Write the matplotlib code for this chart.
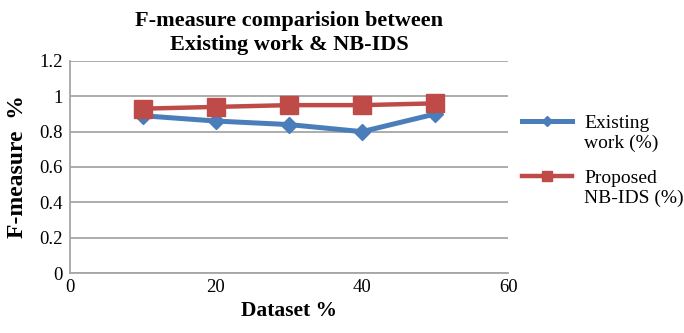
import matplotlib
matplotlib.use("Agg")
import matplotlib.pyplot as plt
from matplotlib.lines import Line2D

dataset = [10, 20, 30, 40, 50]
existing = [0.89, 0.86, 0.84, 0.80, 0.90]
proposed = [0.93, 0.94, 0.95, 0.95, 0.96]

blue = '#4a7ebb'
red = '#be4b48'

plt.rcParams['font.family'] = ['Liberation Serif', 'DejaVu Serif']

fig = plt.figure(figsize=(6.84, 3.33), dpi=100)
ax = fig.add_axes([0.102, 0.18, 0.641, 0.637])

l1, = ax.plot(dataset, existing, color=blue, lw=3.6, marker='D', ms=8.5,
              mec=blue, zorder=3)
l2, = ax.plot(dataset, proposed, color=red, lw=3.2, marker='s', ms=13,
              mec=red, zorder=4)

ax.set_xlim(0, 60)
ax.set_ylim(0, 1.2)
ax.set_xticks([0, 20, 40, 60])
ax.set_yticks([0, 0.2, 0.4, 0.6, 0.8, 1, 1.2])
ax.set_yticklabels(['0', '0.2', '0.4', '0.6', '0.8', '1', '1.2'])
ax.tick_params(length=0, labelsize=13.5)
ax.tick_params(axis='x', pad=4.5)
ax.tick_params(axis='y', pad=5)
ax.yaxis.grid(True, color='#a6a6a6', lw=1.3)
ax.set_axisbelow(True)
for s in ['top', 'right']:
    ax.spines[s].set_visible(False)
for s in ['left', 'bottom']:
    ax.spines[s].set_color('#a6a6a6')
    ax.spines[s].set_linewidth(1.3)

ax.set_title('F-measure comparision between\nExisting work & NB-IDS',
             fontsize=16, fontweight='bold', pad=8, linespacing=1.25)
ax.set_xlabel('Dataset %', fontsize=15.5, fontweight='bold', labelpad=3.5)
ax.set_ylabel('F-measure  %', fontsize=17, fontweight='bold', labelpad=8)

# legend: handle sits next to the first line of each label
blank = Line2D([], [], alpha=0)
leg_kw = dict(loc='center left', frameon=False, fontsize=14,
              handlelength=2.6, handletextpad=0.6, labelspacing=0.1,
              borderpad=0, borderaxespad=0, markerscale=0.6)
leg1 = fig.legend([l1, blank], ['Existing', 'work (%)'],
                  bbox_to_anchor=(0.763, 0.6), **leg_kw)
leg2 = fig.legend([l2, blank], ['Proposed', 'NB-IDS (%)'],
                  bbox_to_anchor=(0.763, 0.435), **leg_kw)

fig.savefig('out.png', dpi=100)
